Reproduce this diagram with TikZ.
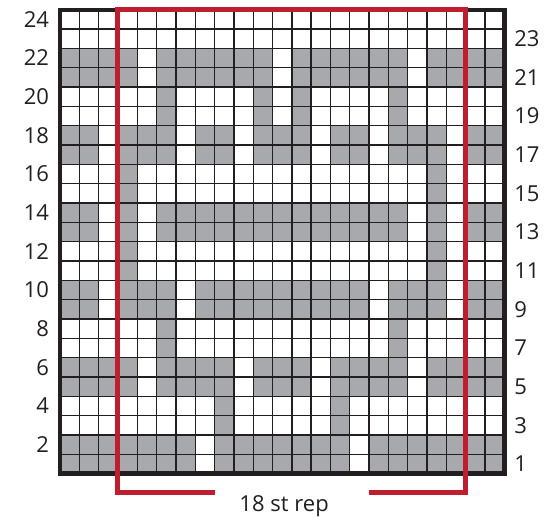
\documentclass[tikz,border=0pt]{standalone}
\usepackage{fontspec}
\setmainfont{Open Sans}
\usepackage{xcolor}
\definecolor{chartgray}{RGB}{167,169,172}
\definecolor{chartline}{RGB}{35,31,32}
\definecolor{repred}{RGB}{190,30,45}
\newcommand{\knitpair}[2]{
  \foreach \s [count=\i] in {#2}{
    \ifnum\s=1
      \fill[chartgray] ({\i-1},{2*#1-2}) rectangle ({\i},{2*#1});
    \fi
  }
}

\begin{document}
\begin{tikzpicture}[x=14.49pt,y=14.49pt,
    every node/.style={font=\fontsize{16.5}{18}\selectfont,text=chartline,inner sep=0pt}]
  \useasboundingbox (-3.1,-2.22) rectangle (25.15,24.5);
  % shaded stitches, each line of the chart worked twice
  \knitpair{1}{1,1,1,1,1,1,1,0,1,1,1,1,1,1,1,0,1,1,1,1,1,1,1}
  \knitpair{2}{0,0,0,0,0,0,0,0,1,0,0,0,0,0,1,0,0,0,0,0,0,0,0}
  \knitpair{3}{1,1,1,1,0,1,1,1,1,0,1,1,1,0,1,1,1,1,0,1,1,1,1}
  \knitpair{4}{0,0,0,0,0,1,0,0,0,0,0,0,0,0,0,0,0,1,0,0,0,0,0}
  \knitpair{5}{1,1,0,1,1,1,0,1,1,1,1,1,1,1,1,1,0,1,1,1,0,1,1}
  \knitpair{6}{0,0,0,1,0,0,0,0,0,0,0,0,0,0,0,0,0,0,0,1,0,0,0}
  \knitpair{7}{1,1,0,1,0,1,1,1,1,1,1,1,1,1,1,1,1,1,0,1,0,1,1}
  \knitpair{8}{0,0,0,1,0,0,0,0,0,0,0,0,0,0,0,0,0,0,0,1,0,0,0}
  \knitpair{9}{1,1,0,1,1,1,0,1,1,0,1,1,1,0,1,1,0,1,1,1,0,1,1}
  \knitpair{10}{0,0,0,0,0,1,0,0,0,0,1,0,1,0,0,0,0,1,0,0,0,0,0}
  \knitpair{11}{1,1,1,1,0,1,1,1,1,1,1,0,1,1,1,1,1,1,0,1,1,1,1}
  \knitpair{12}{0,0,0,0,0,0,0,0,0,0,0,0,0,0,0,0,0,0,0,0,0,0,0}
  % grid
  \draw[chartline,line width=1pt,step=1] (0,0) grid (23,24);
  \draw[chartline,line width=1.9pt] (13,0)--(13,24) (0,20)--(23,20);
  \draw[chartline,line width=3.2pt] (0,0) rectangle (23,24);
  % row numbers
  \foreach \r in {2,4,...,24}{
    \node[anchor=east] (l\r) at (-0.55,\r-0.5) {\r};
  }
  \foreach \r in {1,3,...,23}{
    \node[anchor=west] (r\r) at (23.5,\r-0.5) {\r};
  }
  % repeat
  \node[anchor=base] (rep) at (11.6,-1.95) {18 st rep};
  \draw[repred,line width=3.8pt] (8,-1) -| (3,24) -| (21,-1) -- (16,-1);
\end{tikzpicture}
\end{document}
